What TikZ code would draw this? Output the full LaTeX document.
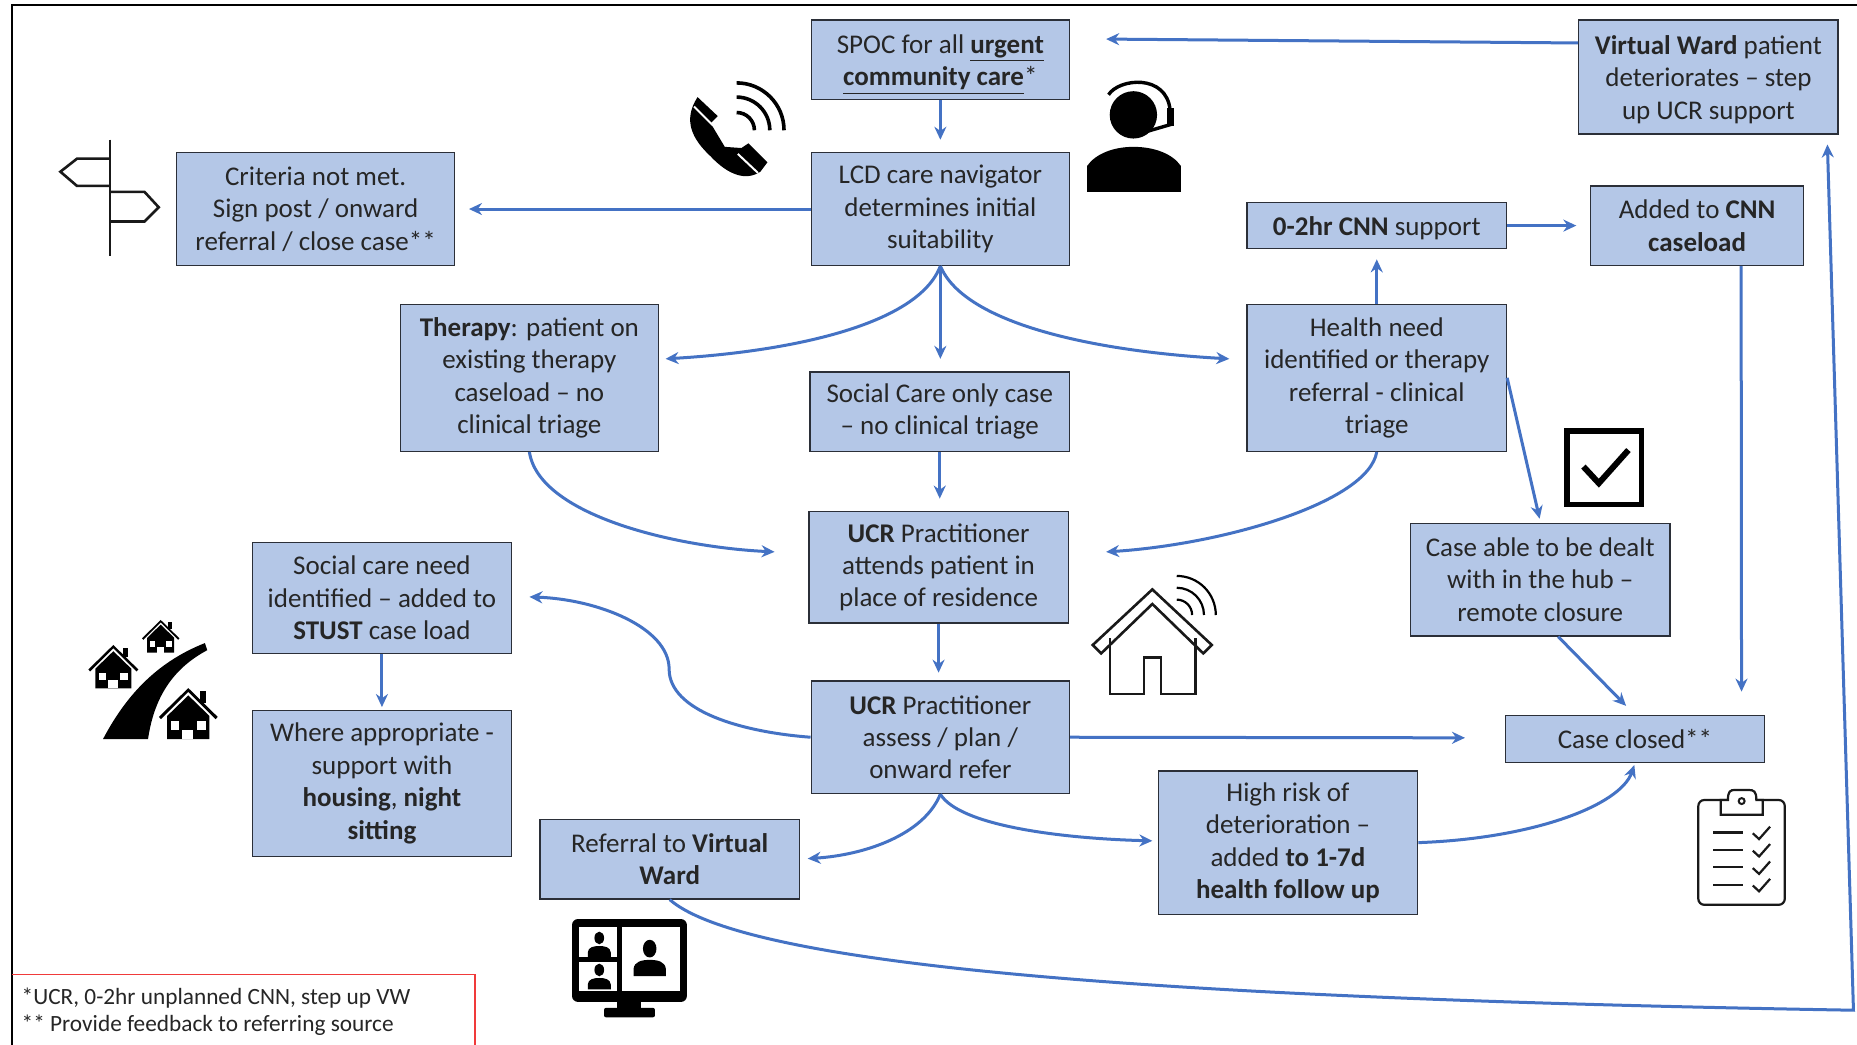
\documentclass[tikz,border=0pt]{standalone}
\usepackage{fontspec}
\setmainfont{Carlito}
\usetikzlibrary{arrows.meta}
\def\pxu{0.59215pt}
\definecolor{boxblue}{HTML}{B4C7E7}
\definecolor{flowblue}{HTML}{4472C4}
\definecolor{boxedge}{HTML}{2B2F38}
\definecolor{noteedge}{HTML}{F03A3A}
\tikzset{
  blockbox/.style 2 args={draw=boxedge, fill=boxblue, line width=0.7pt, align=center, inner sep=0pt,
    minimum width=#1*\pxu, minimum height=#2*\pxu, font=\fontsize{13.5}{16.2}\selectfont, text=black!85},
  flow/.style={draw=flowblue, line width=1.5pt, -{Stealth[length=6.5pt,width=6pt]}},
  iconline/.style={draw=black!90, line width=1.3pt, line join=miter},
}
% pushes a box text down a little
\newcommand{\lowerline}[1]{\rule{0pt}{#1}}
% one house of the street icon, apex at #1,#2
\newcommand{\streethouse}[3]{
  \begin{scope}[shift={(#1,#2)},scale=#3]
    \fill (0.4,0.11) rectangle (0.6,0.5);
    \fill (-0.72,1.74) -- (-0.72,0.95) -- (0,0.25) -- (0.72,0.95) -- (0.72,1.74) -- cycle;
    \fill (-1,0.98) -- (0,0) -- (1,0.98) -- (0.93,1.06) -- (0,0.13) -- (-0.93,1.06) -- cycle;
    \fill[white] (-0.59,1.11) rectangle (-0.31,1.42);
    \fill[white] (0.28,1.11) rectangle (0.59,1.42);
    \fill[white] (-0.2,1.42) rectangle (0.17,1.74);
  \end{scope}
}
% head and shoulders in the monitor panes
\newcommand{\viewer}[3]{
  \begin{scope}[shift={(#1,#2)},scale=#3]
    \fill (0,0) ellipse (0.42 and 0.55);
    \fill (-1,1.7) -- (-1,1.25) .. controls (-0.95,0.8) and (-0.5,0.7) .. (0,0.7)
      .. controls (0.5,0.7) and (0.95,0.8) .. (1,1.25) -- (1,1.7) -- cycle;
  \end{scope}
}
\begin{document}
\begin{tikzpicture}[x=\pxu,y=-\pxu]
\useasboundingbox (0,0) rectangle (1568,882);
\fill[white] (0,0) rectangle (1568,882);

% frame and footnote
\draw[black, line width=0.9pt] (10,882) -- (10,4) -- (1568,4);
\draw[noteedge, line width=0.8pt] (10,823) -- (401,823) -- (401,882);
\node (note) [anchor=north west, align=left, inner sep=0pt, text=black!85, font=\fontsize{11.65}{13.6}\selectfont] at (18,834)
  {*UCR, 0-2hr unplanned CNN, step up VW\\** Provide feedback to referring source};

% boxes
\node (spoc) [blockbox={218}{67}] at (794,50.5) {\lowerline{14pt}SPOC for all \underline{\textbf{urgent}}\\\underline{\textbf{community care}}*};
\node (navigator) [blockbox={218}{95}] at (794,176.5) {LCD care navigator\\determines initial\\suitability};
\node (criteria) [blockbox={235}{95}] at (266.5,176.5) {Criteria not met.\\Sign post / onward\\referral / close case**};
\node (wardup) [blockbox={219}{96}] at (1442.5,65) {\lowerline{12pt}\textbf{Virtual Ward} patient\\deteriorates -- step\\up UCR support};
\node (cnn) [blockbox={219}{39}] at (1162.5,190.5) {\lowerline{12pt}\textbf{0-2hr CNN} support};
\node (caseload) [blockbox={180}{67}] at (1433,190.5) {Added to \textbf{CNN}\\\textbf{caseload}};
\node (therapy) [blockbox={218}{124}] at (447,319) {\textbf{Therapy}: patient on\\existing therapy\\caseload -- no\\clinical triage};
\node (socialonly) [blockbox={219}{67}] at (793.5,347.5) {Social Care only case\\-- no clinical triage};
\node (health) [blockbox={219}{124}] at (1162.5,319) {Health need\\identified or therapy\\referral - clinical\\triage};
\node (hub) [blockbox={219}{95}] at (1300.5,489.5) {Case able to be dealt\\with in the hub --\\remote closure};
\node (attends) [blockbox={219}{94}] at (792.5,479) {\textbf{UCR} Practitioner\\attends patient in\\place of residence};
\node (stust) [blockbox={219}{94}] at (322.5,505) {Social care need\\identified -- added to\\\textbf{STUST} case load};
\node (housing) [blockbox={219}{123}] at (322.5,661.5) {Where appropriate -\\support with\\\textbf{housing}, \textbf{night}\\\textbf{sitting}};
\node (assess) [blockbox={218}{95}] at (794,622.5) {\textbf{UCR} Practitioner\\assess / plan /\\onward refer};
\node (closed) [blockbox={219}{40}] at (1380.5,624) {Case closed**};
\node (highrisk) [blockbox={219}{121}] at (1087.5,711.5) {High risk of\\deterioration --\\added \textbf{to 1-7d}\\\textbf{health follow up}};
\node (wardref) [blockbox={219}{67}] at (565.5,725.5) {Referral to \textbf{Virtual}\\\textbf{Ward}};

% free ends of the connectors, they stop short of the boxes
\coordinate (navin) at (794,118);
\coordinate (spocin) at (934,33);
\coordinate (critin) at (396,176.5);
\coordinate (therin) at (562,303);
\coordinate (socin) at (794,303);
\coordinate (healthin) at (1038,303);
\coordinate (attin) at (793.5,421);
\coordinate (attleft) at (654,466);
\coordinate (attright) at (934,466);
\coordinate (cnnin) at (1162.5,219);
\coordinate (loadin) at (1331,190.5);
\coordinate (closedtop) at (1470.5,584);
\coordinate (hubin) at (1300,438);
\coordinate (closedin) at (1373,596);
\coordinate (assin) at (792.5,568);
\coordinate (stustin) at (447,504);
\coordinate (housin) at (322.5,597);
\coordinate (closedleft) at (1237,623);
\coordinate (refin) at (682,725);
\coordinate (riskin) at (973,710);
\coordinate (closedlow) at (1380,646);
\coordinate (wardin) at (1543,122);
\coordinate (corner) at (1565,853);

% connectors
\draw[flow] (spoc.south) -- (navin);
\draw[flow] ([yshift=17pt]wardup.west) -- (spocin);
\draw[flow] (navigator.west) -- (critin);
\draw[flow] (navigator.south) .. controls (775,275) and (665,297) .. (therin);
\draw[flow] (navigator.south) -- (socin);
\draw[flow] (navigator.south) .. controls (815,275) and (930,297) .. (healthin);
\draw[flow] (socialonly.south) -- (attin);
\draw[flow] (therapy.south) .. controls (455,435) and (570,462) .. (attleft);
\draw[flow] (health.south) .. controls (1155,425) and (1030,460) .. (attright);
\draw[flow] (health.north) -- (cnnin);
\draw[flow] (cnn.east) -- (loadin);
\draw[flow] ([xshift=22pt]caseload.south) -- (closedtop);
\draw[flow] (health.east) -- (hubin);
\draw[flow] ([xshift=9pt]hub.south) -- (closedin);
\draw[flow] (attends.south) -- (assin);
\draw[flow] (assess.west) .. controls (625,618) and (565,600) .. (565,565)
  .. controls (565,530) and (505,506) .. (stustin);
\draw[flow] (stust.south) -- (housin);
\draw[flow] (assess.east) -- (closedleft);
\draw[flow] (assess.south) .. controls (780,705) and (730,722) .. (refin);
\draw[flow] (assess.south) .. controls (810,697) and (895,708) .. (riskin);
\draw[flow] (highrisk.east) .. controls (1295,708) and (1368,680) .. (closedlow);
\draw[flow] (wardref.south) .. controls (640,825) and (1100,845) .. (corner) -- (wardin);

% signpost
\draw[iconline] (93,118) -- (93,216);
\draw[iconline] (93,134) -- (65,134) -- (51,145) -- (65,157) -- (93,157);
\draw[iconline] (93,162) -- (122,162) -- (134,175) -- (122,187) -- (93,187);

% phone
\fill (589,82) -- (606,98) -- (600,104) -- (612,124) -- (626,125) -- (632,121) -- (648,137) -- (642,145)
  .. controls (630,153) and (615,148) .. (600,132) .. controls (585,118) and (576,102) .. cycle;
\draw[white, line width=1pt] (586,90) -- (602,106);
\draw[white, line width=1pt] (623,130) -- (640,146);
\foreach \rad in {15,28,40}
  \draw[black, line width=1.8pt] (622,110-\rad) arc (-90:0:\rad);

% care navigator with headset
\fill (957,97) circle (20);
\fill (918,162) -- (918,140) .. controls (925,130) and (940,124) .. (957,124)
  .. controls (975,124) and (990,130) .. (997,140) -- (997,162) -- cycle;
\draw[black, line width=1.7pt] (936,80) .. controls (945,66) and (985,62) .. (988,93);
\fill (985,91) rectangle (991,106);
\draw[black, line width=1.7pt, line cap=round] (965,112) -- (989,105);

% tick box
\draw[black, line width=2.8pt] (1323,364) rectangle (1386,426);
\draw[black, line width=3pt] (1337,394) -- (1350,408) -- (1375,380);

% house with signal
\draw[iconline] (973,497.7) -- (922.7,544.6) -- (929.8,551.7) -- (973,510) -- (1016,551.7) -- (1023.2,544.6) -- cycle;
\draw[iconline] (937.4,539) -- (937.4,586) -- (966,586) -- (966,555) -- (980.3,555) -- (980.3,586) -- (1009.6,586) -- (1009.6,539);
\foreach \rad in {13,23,33}
  \draw[black, line width=1.1pt] (993.6,519.3-\rad) arc (-90:0:\rad);

% street with houses
\fill (87,624) .. controls (105,590) and (130,560) .. (173,543) -- (175,549)
  .. controls (145,565) and (130,590) .. (125,624) -- cycle;
\streethouse{159}{581}{24.8}
\streethouse{95.7}{544.6}{21.1}
\streethouse{135.7}{523.5}{15.8}

% monitor with three viewers
\fill[rounded corners=3pt] (483,776) rectangle (580,846);
\fill (521,845) rectangle (541,852);
\fill[rounded corners=1pt] (510,851) rectangle (553,859);
\fill[white] (489,782.5) rectangle (521,808);
\fill[white] (489,812) rectangle (521,837);
\fill[white] (525.5,782.5) rectangle (574,837);
\viewer{506}{792}{9.7}
\viewer{506}{819}{9.7}
\viewer{548.6}{801}{13.6}

% clipboard
\draw[black!90, line width=1.1pt, rounded corners=3pt] (1434,675.5) rectangle (1507,764);
\draw[black!90, line width=1.1pt, fill=white] (1453,688) -- (1453,675.5) -- (1459,675.5) .. controls (1459,668) and (1461,667) .. (1465,667)
  -- (1476,667) .. controls (1481,667) and (1483,668) .. (1483,675.5) -- (1488.4,675.5) -- (1488.4,688) -- cycle;
\draw[black!90, line width=1pt] (1470.6,676.4) circle (2.5);
\foreach \row in {0,1,2,3} {
  \draw[black!90, line width=1.1pt] (1446.7,703+14.7*\row) -- (1472,703+14.7*\row);
  \draw[black!90, line width=1.1pt] (1480,703.6+14.7*\row) -- (1485.3,708.5+14.7*\row) -- (1494.6,698+14.7*\row);
}
\end{tikzpicture}
\end{document}
